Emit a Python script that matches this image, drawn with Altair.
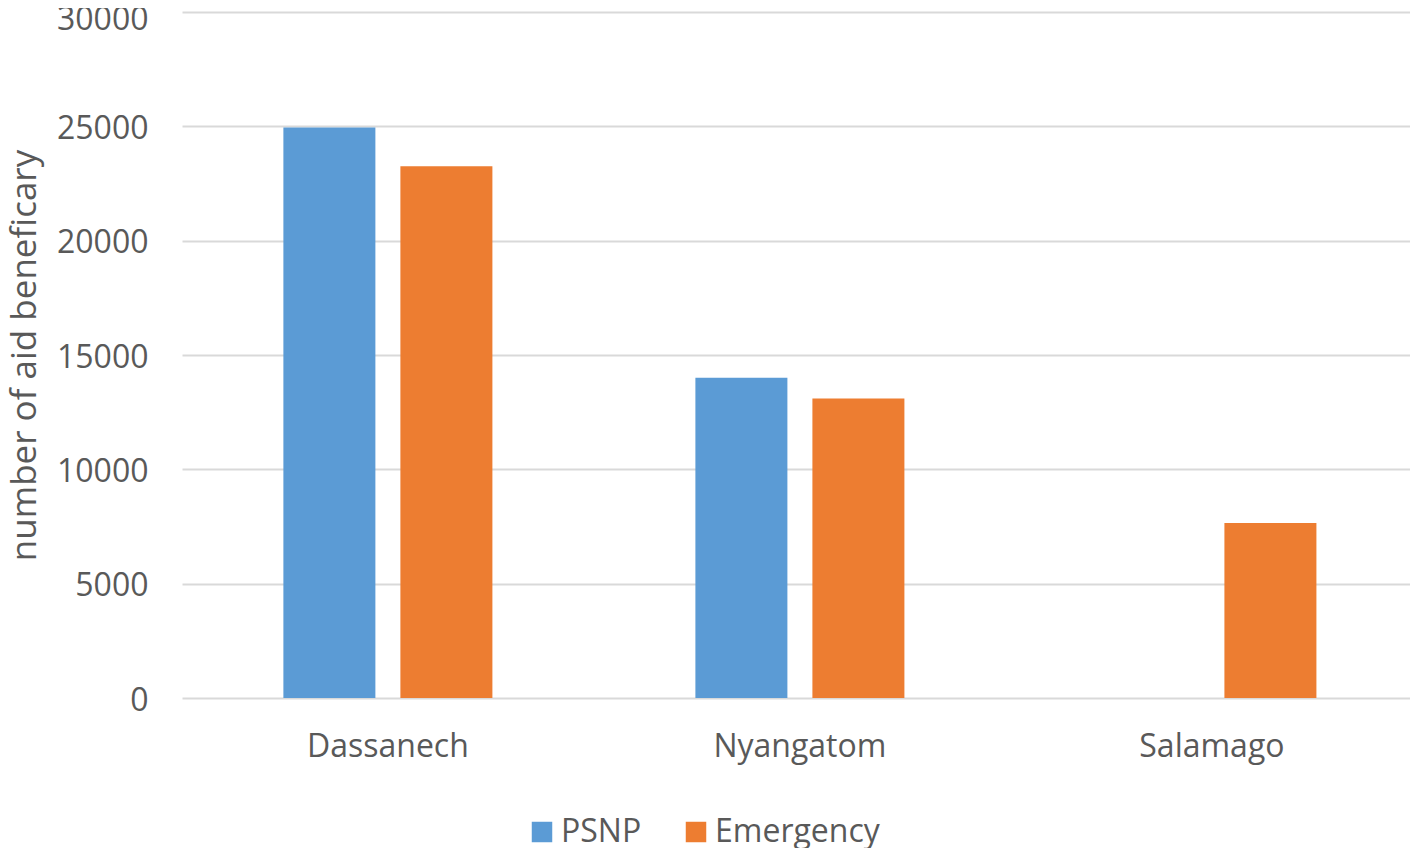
import altair as alt
import pandas as pd

regions = ["Dassanech", "Nyangatom", "Salamago"]
series = ["PSNP", "Emergency"]
psnp = [24950, 14000, 0]
emergency = [23250, 13100, 7650]
colors = ["#5B9BD5", "#ED7D31"]
y_ticks = [0, 5000, 10000, 15000, 20000, 25000, 30000]

rows = []
for r, p, e in zip(regions, psnp, emergency):
    rows.append({"region": r, "series": "PSNP", "value": p})
    rows.append({"region": r, "series": "Emergency", "value": e})
df = pd.DataFrame(rows)

FONT = "Open Sans"
GREY = "#595959"

chart = alt.Chart(df).mark_bar().encode(
    x=alt.X(
        "region:N",
        sort=regions,
        scale=alt.Scale(paddingInner=0.4927, paddingOuter=0.2366, align=0.52),
        axis=alt.Axis(
            title=None, labelAngle=0, domain=False, ticks=False,
            labelFont=FONT, labelFontSize=32, labelColor=GREY, labelPadding=33,
        ),
    ),
    xOffset=alt.XOffset(
        "series:N", sort=series,
        scale=alt.Scale(paddingInner=0.2137, paddingOuter=0),
    ),
    y=alt.Y(
        "value:Q",
        scale=alt.Scale(domain=[0, 30000], nice=False),
        axis=alt.Axis(
            values=y_ticks, format="d", title="number of aid beneficary",
            domain=False, ticks=False,
            grid=True, gridColor="#D9D9D9", gridWidth=2,
            labelFont=FONT, labelFontSize=32, labelColor=GREY, labelPadding=34,
            labelOffset={"condition": {"test": "datum.value == 30000", "value": 7}, "value": 2},
            titleFont=FONT, titleFontSize=35, titleColor=GREY, titleFontWeight="normal",
            titlePadding=14,
        ),
    ),
    color=alt.Color(
        "series:N",
        sort=series,
        scale=alt.Scale(domain=series, range=colors),
        legend=alt.Legend(
            title=None, orient="none", direction="horizontal",
            legendX=344, legendY=804,
            symbolType="square", symbolSize=420, symbolStrokeWidth=0,
            labelFont=FONT, labelFontSize=32, labelColor=GREY, labelLimit=400,
            labelOffset=3, columnPadding=38,
        ),
    ),
).properties(
    width=1228,
    height=686,
    autosize=alt.AutoSizeParams(type="none"),
    padding={"left": 174, "top": 4, "right": 0, "bottom": 150},
).configure_view(stroke=None)

chart.save("out.html", embed_options={"renderer": "svg", "actions": False})
